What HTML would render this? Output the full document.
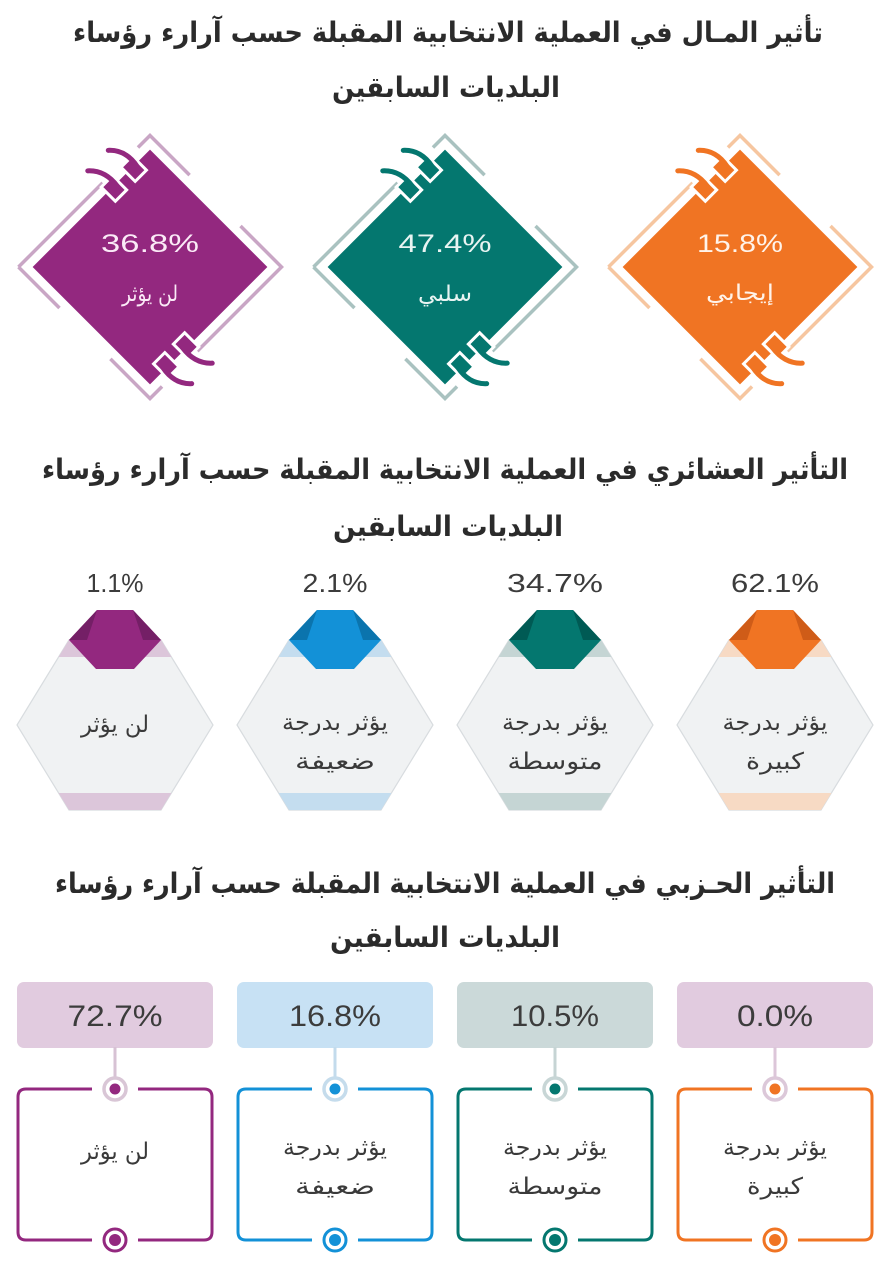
<!DOCTYPE html>
<html>
<head>
<meta charset="utf-8">
<style>
html,body{margin:0;padding:0;background:#fff;}
svg{display:block;}
.t{font-family:"DejaVu Sans",sans-serif;font-weight:bold;fill:#2b2b2b;font-size:28px;}
.ar{font-family:"DejaVu Sans",sans-serif;fill:#3a3a3a;font-size:23px;}
.pc{font-family:"Liberation Sans",sans-serif;fill:#3c3c3c;}
</style>
</head>
<body>
<svg width="890" height="1280" viewBox="0 0 890 1280" xmlns="http://www.w3.org/2000/svg">
<rect width="890" height="1280" fill="#fff"/>

<!-- Titles -->
<text class="t" x="448" y="42" text-anchor="middle" textLength="750" lengthAdjust="spacingAndGlyphs">تأثير المـال في العملية الانتخابية المقبلة حسب آرارء رؤساء</text>
<text class="t" x="446" y="97" text-anchor="middle" textLength="228" lengthAdjust="spacingAndGlyphs">البلديات السابقين</text>

<text class="t" x="445" y="479" text-anchor="middle" textLength="806" lengthAdjust="spacingAndGlyphs">التأثير العشائري في العملية الانتخابية المقبلة حسب آرارء رؤساء</text>
<text class="t" x="448" y="536" text-anchor="middle" textLength="230" lengthAdjust="spacingAndGlyphs">البلديات السابقين</text>

<text class="t" x="445" y="893" text-anchor="middle" textLength="780" lengthAdjust="spacingAndGlyphs">التأثير الحـزبي في العملية الانتخابية المقبلة حسب آرارء رؤساء</text>
<text class="t" x="445" y="947" text-anchor="middle" textLength="230" lengthAdjust="spacingAndGlyphs">البلديات السابقين</text>

<!-- Diamonds -->
<!-- purple -->
<g transform="translate(150,267) rotate(45)">
  <rect x="-83" y="-83" width="166" height="166" fill="#93287f"/>
  <path d="M-93,93 V-26 M-93,-76 V-93 H-37 M35,-93 H93 V26 M93,76 V93 H37 M-35,93 H-93" stroke="#c9a6c5" stroke-width="3.5" fill="none"/>
  <g>
    <rect x="-91" y="-66" width="20" height="16" fill="#93287f" stroke="#fff" stroke-width="3"/>
    <rect x="-91" y="-38" width="20" height="16" fill="#93287f" stroke="#fff" stroke-width="3"/>
    <path d="M-112,-53 Q-100,-66 -80,-62" stroke="#93287f" stroke-width="5" fill="none" stroke-linecap="round"/>
    <path d="M-112,-24 Q-100,-37 -80,-34" stroke="#93287f" stroke-width="5" fill="none" stroke-linecap="round"/>
  </g>
  <g transform="rotate(180)">
    <rect x="-91" y="-66" width="20" height="16" fill="#93287f" stroke="#fff" stroke-width="3"/>
    <rect x="-91" y="-38" width="20" height="16" fill="#93287f" stroke="#fff" stroke-width="3"/>
    <path d="M-112,-53 Q-100,-66 -80,-62" stroke="#93287f" stroke-width="5" fill="none" stroke-linecap="round"/>
    <path d="M-112,-24 Q-100,-37 -80,-34" stroke="#93287f" stroke-width="5" fill="none" stroke-linecap="round"/>
  </g>
</g>
<text class="pc" x="150" y="252" font-size="25" style="fill:#fbeaf7" text-anchor="middle" textLength="98" lengthAdjust="spacingAndGlyphs">36.8%</text>
<text class="ar" x="150" y="301" style="fill:#fbeaf7;font-size:22px" text-anchor="middle" textLength="56" lengthAdjust="spacingAndGlyphs">لن يؤثر</text>

<!-- teal -->
<g transform="translate(445,267) rotate(45)">
  <rect x="-83" y="-83" width="166" height="166" fill="#04776f"/>
  <path d="M-93,93 V-26 M-93,-76 V-93 H-37 M35,-93 H93 V26 M93,76 V93 H37 M-35,93 H-93" stroke="#a9c2c0" stroke-width="3.5" fill="none"/>
  <g>
    <rect x="-91" y="-66" width="20" height="16" fill="#04776f" stroke="#fff" stroke-width="3"/>
    <rect x="-91" y="-38" width="20" height="16" fill="#04776f" stroke="#fff" stroke-width="3"/>
    <path d="M-112,-53 Q-100,-66 -80,-62" stroke="#04776f" stroke-width="5" fill="none" stroke-linecap="round"/>
    <path d="M-112,-24 Q-100,-37 -80,-34" stroke="#04776f" stroke-width="5" fill="none" stroke-linecap="round"/>
  </g>
  <g transform="rotate(180)">
    <rect x="-91" y="-66" width="20" height="16" fill="#04776f" stroke="#fff" stroke-width="3"/>
    <rect x="-91" y="-38" width="20" height="16" fill="#04776f" stroke="#fff" stroke-width="3"/>
    <path d="M-112,-53 Q-100,-66 -80,-62" stroke="#04776f" stroke-width="5" fill="none" stroke-linecap="round"/>
    <path d="M-112,-24 Q-100,-37 -80,-34" stroke="#04776f" stroke-width="5" fill="none" stroke-linecap="round"/>
  </g>
</g>
<text class="pc" x="445" y="252" font-size="25" style="fill:#e8f4f2" text-anchor="middle" textLength="93" lengthAdjust="spacingAndGlyphs">47.4%</text>
<text class="ar" x="445" y="301" style="fill:#e8f4f2;font-size:22px" text-anchor="middle" textLength="54" lengthAdjust="spacingAndGlyphs">سلبي</text>

<!-- orange -->
<g transform="translate(740,267) rotate(45)">
  <rect x="-83" y="-83" width="166" height="166" fill="#f07423"/>
  <path d="M-93,93 V-26 M-93,-76 V-93 H-37 M35,-93 H93 V26 M93,76 V93 H37 M-35,93 H-93" stroke="#f6c6a0" stroke-width="3.5" fill="none"/>
  <g>
    <rect x="-91" y="-66" width="20" height="16" fill="#f07423" stroke="#fff" stroke-width="3"/>
    <rect x="-91" y="-38" width="20" height="16" fill="#f07423" stroke="#fff" stroke-width="3"/>
    <path d="M-112,-53 Q-100,-66 -80,-62" stroke="#f07423" stroke-width="5" fill="none" stroke-linecap="round"/>
    <path d="M-112,-24 Q-100,-37 -80,-34" stroke="#f07423" stroke-width="5" fill="none" stroke-linecap="round"/>
  </g>
  <g transform="rotate(180)">
    <rect x="-91" y="-66" width="20" height="16" fill="#f07423" stroke="#fff" stroke-width="3"/>
    <rect x="-91" y="-38" width="20" height="16" fill="#f07423" stroke="#fff" stroke-width="3"/>
    <path d="M-112,-53 Q-100,-66 -80,-62" stroke="#f07423" stroke-width="5" fill="none" stroke-linecap="round"/>
    <path d="M-112,-24 Q-100,-37 -80,-34" stroke="#f07423" stroke-width="5" fill="none" stroke-linecap="round"/>
  </g>
</g>
<text class="pc" x="740" y="252" font-size="25" style="fill:#fff3ea" text-anchor="middle" textLength="86" lengthAdjust="spacingAndGlyphs">15.8%</text>
<text class="ar" x="740" y="300" style="fill:#fff3ea;font-size:22px" text-anchor="middle" textLength="68" lengthAdjust="spacingAndGlyphs">إيجابي</text>

<!-- Hexagons -->
<!-- purple cx=115 -->
<g>
  <polygon points="69,640 161,640 213,725 161,810 69,810 17,725" fill="#f0f2f3" stroke="#d8dcdf" stroke-width="1.2"/>
  <polygon points="69,640 161,640 171.4,657 58.6,657" fill="#dcc6da"/>
  <polygon points="58.6,793 171.4,793 161,810 69,810" fill="#dcc6da"/>
  <polygon points="97,610 133,610 161,640 134,669 96,669 69,640" fill="#93287f"/>
  <polygon points="69,640 97,610 87,640" fill="#741f66"/>
  <polygon points="161,640 133,610 143,640" fill="#741f66"/>
</g>
<text class="pc" x="115" y="592" font-size="26" text-anchor="middle" textLength="57" lengthAdjust="spacingAndGlyphs">1.1%</text>
<text class="ar" x="115" y="732" text-anchor="middle" textLength="68" lengthAdjust="spacingAndGlyphs">لن يؤثر</text>

<!-- blue cx=335 -->
<g>
  <polygon points="289,640 381,640 433,725 381,810 289,810 237,725" fill="#f0f2f3" stroke="#d8dcdf" stroke-width="1.2"/>
  <polygon points="289,640 381,640 391.4,657 278.6,657" fill="#c4ddef"/>
  <polygon points="278.6,793 391.4,793 381,810 289,810" fill="#c4ddef"/>
  <polygon points="317,610 353,610 381,640 354,669 316,669 289,640" fill="#1391d7"/>
  <polygon points="289,640 317,610 307,640" fill="#0b74ad"/>
  <polygon points="381,640 353,610 363,640" fill="#0b74ad"/>
</g>
<text class="pc" x="335" y="592" font-size="26" text-anchor="middle" textLength="65" lengthAdjust="spacingAndGlyphs">2.1%</text>
<text class="ar" x="335" y="730" text-anchor="middle" textLength="106" lengthAdjust="spacingAndGlyphs">يؤثر بدرجة</text>
<text class="ar" x="335" y="769" text-anchor="middle" textLength="80" lengthAdjust="spacingAndGlyphs">ضعيفة</text>

<!-- teal cx=555 -->
<g>
  <polygon points="509,640 601,640 653,725 601,810 509,810 457,725" fill="#f0f2f3" stroke="#d8dcdf" stroke-width="1.2"/>
  <polygon points="509,640 601,640 611.4,657 498.6,657" fill="#c5d5d4"/>
  <polygon points="498.6,793 611.4,793 601,810 509,810" fill="#c5d5d4"/>
  <polygon points="537,610 573,610 601,640 574,669 536,669 509,640" fill="#04776f"/>
  <polygon points="509,640 537,610 527,640" fill="#005a54"/>
  <polygon points="601,640 573,610 583,640" fill="#005a54"/>
</g>
<text class="pc" x="555" y="592" font-size="26" text-anchor="middle" textLength="96" lengthAdjust="spacingAndGlyphs">34.7%</text>
<text class="ar" x="555" y="730" text-anchor="middle" textLength="106" lengthAdjust="spacingAndGlyphs">يؤثر بدرجة</text>
<text class="ar" x="555" y="769" text-anchor="middle" textLength="95" lengthAdjust="spacingAndGlyphs">متوسطة</text>

<!-- orange cx=775 -->
<g>
  <polygon points="729,640 821,640 873,725 821,810 729,810 677,725" fill="#f0f2f3" stroke="#d8dcdf" stroke-width="1.2"/>
  <polygon points="729,640 821,640 831.4,657 718.6,657" fill="#f7dac4"/>
  <polygon points="718.6,793 831.4,793 821,810 729,810" fill="#f7dac4"/>
  <polygon points="757,610 793,610 821,640 794,669 756,669 729,640" fill="#f07423"/>
  <polygon points="729,640 757,610 747,640" fill="#cf5c18"/>
  <polygon points="821,640 793,610 803,640" fill="#cf5c18"/>
</g>
<text class="pc" x="775" y="592" font-size="26" text-anchor="middle" textLength="88" lengthAdjust="spacingAndGlyphs">62.1%</text>
<text class="ar" x="775" y="730" text-anchor="middle" textLength="105" lengthAdjust="spacingAndGlyphs">يؤثر بدرجة</text>
<text class="ar" x="775" y="769" text-anchor="middle" textLength="58" lengthAdjust="spacingAndGlyphs">كبيرة</text>

<!-- Bottom boxes -->
<!-- purple cx=115 -->
<g>
  <rect x="17" y="982" width="196" height="66" rx="7" fill="#e1cbdf"/>
  <line x1="115" y1="1047" x2="115" y2="1079" stroke="#d7c2d4" stroke-width="3"/>
  <circle cx="115" cy="1089" r="11" fill="#fff" stroke="#d9c6d6" stroke-width="3.5"/>
  <circle cx="115" cy="1089" r="5.5" fill="#93287f"/>
  <path d="M92,1089 H26 Q18,1089 18,1097 V1232 Q18,1240 26,1240 H92 M138,1240 H204 Q212,1240 212,1232 V1097 Q212,1089 204,1089 H138" fill="none" stroke="#93287f" stroke-width="3"/>
  <circle cx="115" cy="1240" r="11" fill="#fff" stroke="#93287f" stroke-width="3"/>
  <circle cx="115" cy="1240" r="6" fill="#93287f"/>
</g>
<text class="pc" x="115" y="1026" font-size="30" text-anchor="middle" textLength="95" lengthAdjust="spacingAndGlyphs">72.7%</text>
<text class="ar" x="115" y="1159" text-anchor="middle" textLength="68" lengthAdjust="spacingAndGlyphs">لن يؤثر</text>

<!-- blue cx=335 -->
<g>
  <rect x="237" y="982" width="196" height="66" rx="7" fill="#c7e1f4"/>
  <line x1="335" y1="1047" x2="335" y2="1079" stroke="#c3dbec" stroke-width="3"/>
  <circle cx="335" cy="1089" r="11" fill="#fff" stroke="#c5dcec" stroke-width="3.5"/>
  <circle cx="335" cy="1089" r="5.5" fill="#1391d7"/>
  <path d="M312,1089 H246 Q238,1089 238,1097 V1232 Q238,1240 246,1240 H312 M358,1240 H424 Q432,1240 432,1232 V1097 Q432,1089 424,1089 H358" fill="none" stroke="#1391d7" stroke-width="3"/>
  <circle cx="335" cy="1240" r="11" fill="#fff" stroke="#1391d7" stroke-width="3"/>
  <circle cx="335" cy="1240" r="6" fill="#1391d7"/>
</g>
<text class="pc" x="335" y="1026" font-size="30" text-anchor="middle" textLength="92" lengthAdjust="spacingAndGlyphs">16.8%</text>
<text class="ar" x="335" y="1155" text-anchor="middle" textLength="104" lengthAdjust="spacingAndGlyphs">يؤثر بدرجة</text>
<text class="ar" x="335" y="1194" text-anchor="middle" textLength="80" lengthAdjust="spacingAndGlyphs">ضعيفة</text>

<!-- teal cx=555 -->
<g>
  <rect x="457" y="982" width="196" height="66" rx="7" fill="#cbd9d9"/>
  <line x1="555" y1="1047" x2="555" y2="1079" stroke="#c6d4d4" stroke-width="3"/>
  <circle cx="555" cy="1089" r="11" fill="#fff" stroke="#c8d6d6" stroke-width="3.5"/>
  <circle cx="555" cy="1089" r="5.5" fill="#04776f"/>
  <path d="M532,1089 H466 Q458,1089 458,1097 V1232 Q458,1240 466,1240 H532 M578,1240 H644 Q652,1240 652,1232 V1097 Q652,1089 644,1089 H578" fill="none" stroke="#04776f" stroke-width="3"/>
  <circle cx="555" cy="1240" r="11" fill="#fff" stroke="#04776f" stroke-width="3"/>
  <circle cx="555" cy="1240" r="6" fill="#04776f"/>
</g>
<text class="pc" x="555" y="1026" font-size="30" text-anchor="middle" textLength="88" lengthAdjust="spacingAndGlyphs">10.5%</text>
<text class="ar" x="555" y="1155" text-anchor="middle" textLength="104" lengthAdjust="spacingAndGlyphs">يؤثر بدرجة</text>
<text class="ar" x="555" y="1194" text-anchor="middle" textLength="95" lengthAdjust="spacingAndGlyphs">متوسطة</text>

<!-- orange cx=775 -->
<g>
  <rect x="677" y="982" width="196" height="66" rx="7" fill="#e1cbdf"/>
  <line x1="775" y1="1047" x2="775" y2="1079" stroke="#dcc6d9" stroke-width="3"/>
  <circle cx="775" cy="1089" r="11" fill="#fff" stroke="#dcc8d9" stroke-width="3.5"/>
  <circle cx="775" cy="1089" r="5.5" fill="#f07423"/>
  <path d="M752,1089 H686 Q678,1089 678,1097 V1232 Q678,1240 686,1240 H752 M798,1240 H864 Q872,1240 872,1232 V1097 Q872,1089 864,1089 H798" fill="none" stroke="#f07423" stroke-width="3"/>
  <circle cx="775" cy="1240" r="11" fill="#fff" stroke="#f07423" stroke-width="3"/>
  <circle cx="775" cy="1240" r="6" fill="#f07423"/>
</g>
<text class="pc" x="775" y="1026" font-size="30" text-anchor="middle" textLength="76" lengthAdjust="spacingAndGlyphs">0.0%</text>
<text class="ar" x="775" y="1155" text-anchor="middle" textLength="104" lengthAdjust="spacingAndGlyphs">يؤثر بدرجة</text>
<text class="ar" x="775" y="1194" text-anchor="middle" textLength="56" lengthAdjust="spacingAndGlyphs">كبيرة</text>

</svg>
</body>
</html>
